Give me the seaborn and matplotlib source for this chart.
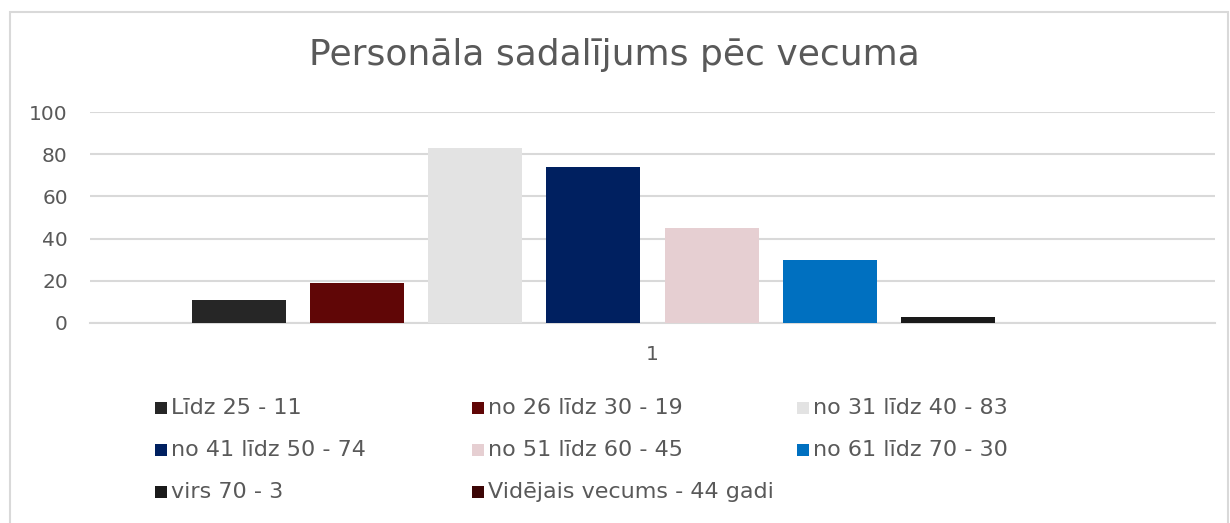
import matplotlib
matplotlib.use("Agg")
import matplotlib.pyplot as plt
from matplotlib.patches import Rectangle
import seaborn as sns
import pandas as pd
import numpy as np

# ---- data ----
series_labels = ["Līdz 25 - 11", "no 26 līdz 30 - 19", "no 31 līdz 40 - 83",
                 "no 41 līdz 50 - 74", "no 51 līdz 60 - 45", "no 61 līdz 70 - 30",
                 "virs 70 - 3", "Vidējais vecums - 44 gadi"]
series_values = [11, 19, 83, 74, 45, 30, 3, np.nan]
series_colors = ["#262626", "#600606", "#E3E3E3", "#002060",
                 "#E6CFD2", "#0070C0", "#1A1A1A", "#3C0505"]
category_label = "1"
title = "Personāla sadalījums pēc vecuma"
y_ticks = [0, 20, 40, 60, 80, 100]

W, H = 1230, 523
TXT = "#595959"
GRID = "#D9D9D9"

sns.set_theme(style="white")
plt.rcParams["font.family"] = ["DejaVu Sans"]

fig = plt.figure(figsize=(W / 100, H / 100), dpi=100)

def fx(x):
    return x / W

def fy(y):
    return 1 - y / H

# outer chart frame
fig.add_artist(Rectangle((fx(10), fy(540)), fx(1228) - fx(10), fy(12) - fy(540),
                         transform=fig.transFigure, fill=False,
                         edgecolor="#D9D9D9", linewidth=1.5))

ax = fig.add_axes([fx(90), fy(323), fx(1215) - fx(90), fy(112) - fy(323)])

df = pd.DataFrame({"series": series_labels, "value": series_values})
sns.barplot(data=df, x="series", y="value", hue="series", order=series_labels,
            hue_order=series_labels, palette=series_colors, width=0.795,
            legend=False, ax=ax, saturation=1, linewidth=0)

ax.set_xlim(-1.26, 8.26)
ax.set_ylim(0, 100)
ax.set_yticks(y_ticks)
ax.set_yticklabels([str(t) for t in y_ticks], color=TXT, fontsize=14.5)
ax.set_xticks([3.5])
ax.set_xticklabels([category_label], color=TXT, fontsize=14.5)
ax.tick_params(axis="y", length=0, pad=16)
ax.tick_params(axis="x", length=0, pad=16)
ax.set_xlabel("")
ax.set_ylabel("")
ax.yaxis.grid(True, color=GRID, linewidth=1.5)
ax.set_axisbelow(True)
for s in ["top", "right", "left"]:
    ax.spines[s].set_visible(False)
ax.spines["bottom"].set_color(GRID)
ax.spines["bottom"].set_linewidth(1.5)
ax.spines["bottom"].set_zorder(0.5)

fig.text(fx(614), fy(55), title, ha="center", va="center", color=TXT, fontsize=26)

# legend (row-major, 3 columns)
col_x = [155, 472, 797]
row_y = [408, 450, 492]
sq = 12
for i, (lab, col) in enumerate(zip(series_labels, series_colors)):
    r, c = divmod(i, 3)
    x0, y0 = col_x[c], row_y[r]
    fig.add_artist(Rectangle((fx(x0), fy(y0 + sq / 2)), sq / W, sq / H,
                             transform=fig.transFigure, facecolor=col,
                             edgecolor="none"))
    fig.text(fx(x0 + sq + 4), fy(y0), lab, ha="left", va="center",
             color=TXT, fontsize=16)

fig.savefig("out.png", dpi=100)
